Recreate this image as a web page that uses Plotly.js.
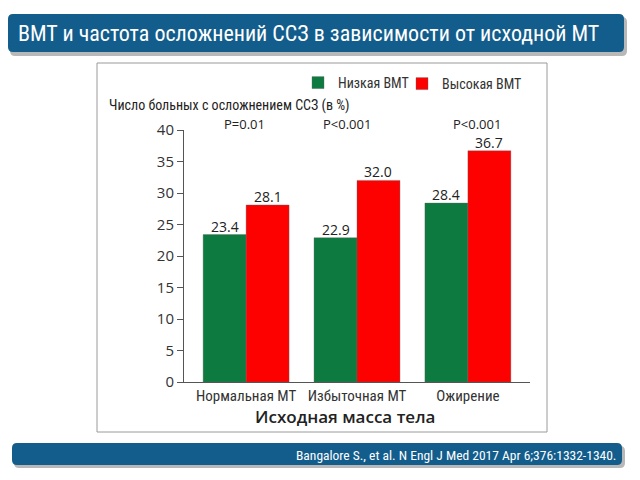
<!DOCTYPE html>
<html>
<head>
<meta charset="utf-8">
<script src="https://cdn.plot.ly/plotly-3.0.1.min.js"></script>
<style>
  html, body { margin: 0; padding: 0; background: #ffffff; }
  #chart { width: 640px; height: 480px; }
</style>
</head>
<body>
<div id="chart"></div>
<script>
// ---- data ----
var categories = ['Нормальная МТ', 'Избыточная МТ', 'Ожирение'];
var lowBMV = [23.4, 22.9, 28.4];
var highBMV = [28.1, 32.0, 36.7];
var pValues = ['P=0.01', 'P<0.001', 'P<0.001'];
var yTicks = [0, 5, 10, 15, 20, 25, 30, 35, 40];
var seriesNames = ['Низкая ВМТ', 'Высокая ВМТ'];
var slideTitle = 'ВМТ и частота осложнений ССЗ в зависимости от исходной МТ';
var yTitle = 'Число больных с осложнением ССЗ (в %)';
var xTitle = 'Исходная масса тела';
var citation = 'Bangalore S., et al. N Engl J Med 2017 Apr 6;376:1332-1340.';

// ---- layout helpers (pixel -> paper) ----
var W = 640, H = 480;
var ML = 184, MR = 110, MT = 130, MB = 98;
var PW = W - ML - MR, PH = H - MT - MB;
function px(x) { return (x - ML) / PW; }
function py(y) { return (H - MB - y) / PH; }
function roundRect(x0, y0, x1, y1, r) {
  var rx = r / PW, ry = r / PH;
  var L = px(x0), R = px(x1), T = py(y0), B = py(y1);
  return 'M' + (L + rx) + ',' + T +
    ' L' + (R - rx) + ',' + T +
    ' Q' + R + ',' + T + ' ' + R + ',' + (T - ry) +
    ' L' + R + ',' + (B + ry) +
    ' Q' + R + ',' + B + ' ' + (R - rx) + ',' + B +
    ' L' + (L + rx) + ',' + B +
    ' Q' + L + ',' + B + ' ' + L + ',' + (B + ry) +
    ' L' + L + ',' + (T - ry) +
    ' Q' + L + ',' + T + ' ' + (L + rx) + ',' + T + ' Z';
}

var narrow = '"Liberation Sans Narrow", "Arial Narrow", "Roboto Condensed", "Liberation Sans", sans-serif';
var numFont = '"Open Sans", "DejaVu Sans", sans-serif';
var barBlue = '#135d8c';
var BARGAP = 0.225;

var traces = [
  {
    type: 'bar', name: seriesNames[0], x: categories, y: lowBMV,
    marker: { color: '#0d7a3f', line: { color: 'rgba(100,100,100,0.6)', width: 0.6 } },
    legend: 'legend', hoverinfo: 'skip'
  },
  {
    type: 'bar', name: seriesNames[1], x: categories, y: highBMV,
    marker: { color: '#fd0000', line: { color: 'rgba(100,100,100,0.6)', width: 0.6 } },
    legend: 'legend2', hoverinfo: 'skip'
  }
];

var annotations = [];
// value labels above bars (positioned on the data axes)
var half = (1 - BARGAP) / 4;
var series = [lowBMV, highBMV];
for (var s = 0; s < series.length; s++) {
  for (var i = 0; i < categories.length; i++) {
    annotations.push({
      xref: 'x', yref: 'y', x: i + (s === 0 ? -half : half), y: series[s][i],
      text: series[s][i].toFixed(1), showarrow: false,
      xanchor: 'center', yanchor: 'middle', yshift: 8.5,
      font: { family: numFont, size: 14, color: '#222' }
    });
  }
}
var pOffsets = [-0.01, -0.09, 0.08];
for (var j = 0; j < pValues.length; j++) {
  annotations.push({
    xref: 'x', yref: 'paper', x: j + pOffsets[j], y: py(124),
    text: pValues[j], showarrow: false, xanchor: 'center', yanchor: 'middle',
    font: { family: numFont, size: 13, color: '#222' }
  });
}
annotations.push({
  xref: 'paper', yref: 'paper', x: px(16), y: py(33),
  text: slideTitle, showarrow: false, xanchor: 'left', yanchor: 'middle',
  font: { family: narrow, size: 22, color: '#ffffff' }
});
annotations.push({
  xref: 'paper', yref: 'paper', x: px(107), y: py(106),
  text: yTitle, showarrow: false, xanchor: 'left', yanchor: 'middle',
  font: { family: narrow, size: 14, color: '#222' }
});
annotations.push({
  xref: 'paper', yref: 'paper', x: px(345), y: py(416),
  text: xTitle, showarrow: false, xanchor: 'center', yanchor: 'middle',
  font: { family: numFont, size: 17, color: '#222', weight: 600 }
});
annotations.push({
  xref: 'paper', yref: 'paper', x: px(618), y: py(455),
  text: citation, showarrow: false, xanchor: 'right', yanchor: 'middle',
  font: { family: narrow, size: 13.5, color: '#ffffff' }
});

var shapes = [
  // chart frame
  { type: 'rect', xref: 'paper', yref: 'paper', layer: 'below',
    x0: px(97), x1: px(547), y0: py(432), y1: py(63),
    fillcolor: '#ffffff', line: { color: '#9a9a9a', width: 1 } },
  // title bar shadow + bar
  { type: 'path', xref: 'paper', yref: 'paper', layer: 'below',
    path: roundRect(10, 17, 627, 56, 5),
    fillcolor: 'rgba(0,0,0,0.28)', line: { width: 0 } },
  { type: 'path', xref: 'paper', yref: 'paper', layer: 'below',
    path: roundRect(8, 14, 624, 52, 5),
    fillcolor: barBlue, line: { width: 0 } },
  // footer bar shadow + bar
  { type: 'path', xref: 'paper', yref: 'paper', layer: 'below',
    path: roundRect(14, 446, 625, 468, 5),
    fillcolor: 'rgba(0,0,0,0.28)', line: { width: 0 } },
  { type: 'path', xref: 'paper', yref: 'paper', layer: 'below',
    path: roundRect(12, 443, 622, 465, 5),
    fillcolor: barBlue, line: { width: 0 } }
];

var legendBase = {
  orientation: 'h', yanchor: 'middle', xanchor: 'left',
  font: { family: narrow, size: 14, color: '#333' },
  bgcolor: 'rgba(0,0,0,0)', borderwidth: 0, itemwidth: 30
};

var layout = {
  width: W, height: H,
  margin: { l: ML, r: MR, t: MT, b: MB, pad: 0 },
  paper_bgcolor: '#ffffff',
  plot_bgcolor: 'rgba(0,0,0,0)',
  barmode: 'group',
  bargap: BARGAP,
  bargroupgap: 0,
  showlegend: true,
  legend: Object.assign({}, legendBase, { x: px(298), y: py(83) }),
  legend2: Object.assign({}, legendBase, { x: px(402), y: py(84) }),
  xaxis: {
    type: 'category', range: [-0.56, 2.56],
    showline: true, linecolor: '#555', linewidth: 1,
    ticks: '', showgrid: false, zeroline: false,
    tickfont: { family: narrow, size: 15, color: '#333' }
  },
  yaxis: {
    range: [0, 40], tickvals: yTicks, ticktext: yTicks.map(String),
    showline: true, linecolor: '#555', linewidth: 1,
    ticks: 'outside', ticklen: 6, tickcolor: '#555',
    showgrid: false, zeroline: false,
    tickfont: { family: numFont, size: 15, color: '#333' }
  },
  annotations: annotations,
  shapes: shapes
};

Plotly.newPlot('chart', traces, layout, { staticPlot: true, displayModeBar: false });
</script>
</body>
</html>
